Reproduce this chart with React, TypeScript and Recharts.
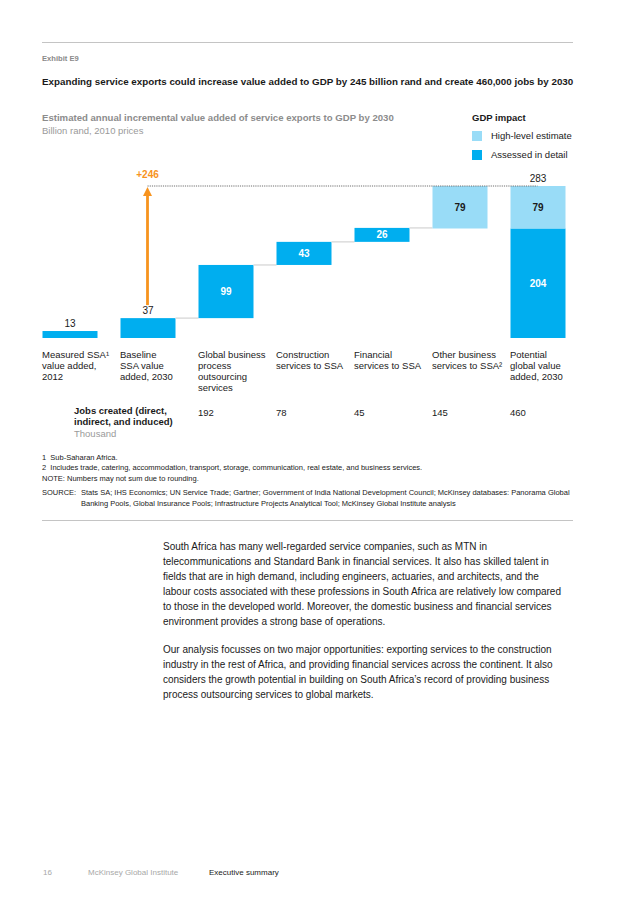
import React from 'react';
import { BarChart, Bar, XAxis, YAxis, LabelList, ReferenceLine } from 'recharts';

// Waterfall values, billion rand (2010 prices)
const CATEGORIES = ['measured2012', 'baseline2030', 'gbpo', 'construction', 'financial', 'other', 'potential2030'];
const CATEGORY_LINES = [
  ['Measured SSA¹', 'value added,', '2012'],
  ['Baseline', 'SSA value', 'added, 2030'],
  ['Global business', 'process', 'outsourcing', 'services'],
  ['Construction', 'services to SSA'],
  ['Financial', 'services to SSA'],
  ['Other business', 'services to SSA²'],
  ['Potential', 'global value', 'added, 2030'],
];
const BASE = [0, 0, 37, 136, 179, 204, 0];
const DETAILED = [13, 37, 99, 43, 26, 0, 204];
const HIGH_LEVEL = [0, 0, 0, 0, 0, 79, 79];
const TOTALS = [null, null, null, null, null, null, 283];
const JOBS = ['', '', '192', '78', '45', '145', '460'];
const UPLIFT_LABEL = '+246';
const TARGET = 283;

const DATA = CATEGORIES.map((name, i) => ({
  name,
  base: BASE[i],
  detailed: DETAILED[i],
  high: HIGH_LEVEL[i],
  total: TOTALS[i],
}));

const FONT = '"Liberation Sans", Arial, Helvetica, sans-serif';
const DARK = '#00aeef';
const LIGHT = '#99dcf7';
const ORANGE = '#f7931e';
const TEXT = '#1a1a1a';

const CHART_W = 636;
const M_LEFT = 30.5;
const M_RIGHT = 59.5;
const M_TOP = 186;
const PLOT_H = 152;
const AXIS_H = 110;
const BAR_W = 55;
const BAND = (CHART_W - M_LEFT - M_RIGHT) / CATEGORIES.length;
const GAP = BAND - BAR_W;

const T = ({ x, y, size, color = TEXT, bold = false, children }: any) => (
  <div
    style={{
      position: 'absolute',
      left: x,
      top: y - size * 0.846,
      fontSize: size,
      lineHeight: `${size}px`,
      color,
      fontWeight: bold ? 700 : 400,
      whiteSpace: 'nowrap',
    }}
  >
    {children}
  </div>
);

// dark bar + the thin connector to the next bar
const DetailedShape = (p: any) => {
  const { x, y, width, height, index } = p;
  if (!height) return <g />;
  const connect = index >= 1 && index <= 4;
  return (
    <g>
      <rect x={x} y={y} width={width} height={height} fill={DARK} />
      {connect && <line x1={x + width} x2={x + width + GAP} y1={y} y2={y} stroke="#dcdcdc" strokeWidth={1.5} />}
    </g>
  );
};

const DetailedLabel = (p: any) => {
  const { x, y, width, height, value, index } = p;
  if (!value) return null;
  if (index <= 1) {
    return (
      <text x={x + width / 2} y={y - 4} textAnchor="middle" fontSize={10} fill={TEXT} fontFamily={FONT}>
        {value}
      </text>
    );
  }
  return (
    <text x={x + width / 2} y={y + height / 2 + 3.5} textAnchor="middle" fontSize={10} fontWeight={700} fill="#fff" fontFamily={FONT}>
      {value}
    </text>
  );
};

const HighLabel = (p: any) => {
  const { x, y, width, height, value } = p;
  if (!value) return null;
  return (
    <text x={x + width / 2} y={y + height / 2 + 3.5} textAnchor="middle" fontSize={10} fontWeight={700} fill={TEXT} fontFamily={FONT}>
      {value}
    </text>
  );
};

const TotalLabel = (p: any) => {
  const { x, y, width, value } = p;
  if (value == null) return null;
  return (
    <text x={x + width / 2} y={y - 4} textAnchor="middle" fontSize={10} fill={TEXT} fontFamily={FONT}>
      {value}
    </text>
  );
};

const CategoryTick = (p: any) => {
  const { x, y, payload } = p;
  const i = CATEGORIES.indexOf(payload.value);
  const left = x - BAR_W / 2;
  return (
    <g fontFamily={FONT} fontSize={9.5} fill={TEXT}>
      <text x={left} y={y}>
        {CATEGORY_LINES[i].map((l, k) => (
          <tspan key={k} x={left} dy={k === 0 ? 20 : 11}>
            {l}
          </tspan>
        ))}
      </text>
      {JOBS[i] && (
        <text x={left} y={y + 78}>
          {JOBS[i]}
        </text>
      )}
    </g>
  );
};

const Arrow = (p: any) => {
  const { x1, y1, y2 } = p;
  const start = y1 - 13;
  const tip = y2 + 1;
  return (
    <g>
      <line x1={x1} x2={x1} y1={start} y2={tip + 8} stroke={ORANGE} strokeWidth={2.8} />
      <polygon points={`${x1 - 4.5},${tip + 9} ${x1 + 4.5},${tip + 9} ${x1},${tip}`} fill={ORANGE} />
      <text x={x1} y={y2 - 8} textAnchor="middle" fontSize={10} fontWeight={700} fill={ORANGE} fontFamily={FONT}>
        {UPLIFT_LABEL}
      </text>
    </g>
  );
};

const BODY_1 = [
  'South Africa has many well-regarded service companies, such as MTN in',
  'telecommunications and Standard Bank in financial services. It also has skilled talent in',
  'fields that are in high demand, including engineers, actuaries, and architects, and the',
  'labour costs associated with these professions in South Africa are relatively low compared',
  'to those in the developed world. Moreover, the domestic business and financial services',
  'environment provides a strong base of operations.',
];
const BODY_2 = [
  'Our analysis focusses on two major opportunities: exporting services to the construction',
  'industry in the rest of Africa, and providing financial services across the continent. It also',
  'considers the growth potential in building on South Africa\u2019s record of providing business',
  'process outsourcing services to global markets.',
];

export default function App() {
  return (
    <div style={{ position: 'absolute', left: 0, top: 0, width: 636, height: 900, background: '#fff', fontFamily: FONT, overflow: 'hidden' }}>
      <div style={{ position: 'absolute', left: 42, top: 41.5, width: 531, height: 1.2, background: '#c4c4c4' }} />
      <T x={42} y={61} size={7.6} color="#8a8a8a" bold>Exhibit E9</T>
      <T x={42} y={85.5} size={9.8} bold>
        Expanding service exports could increase value added to GDP by 245 billion rand and create 460,000 jobs by 2030
      </T>
      <T x={42} y={121.5} size={9.6} color="#8c8c8c" bold>
        Estimated annual incremental value added of service exports to GDP by 2030
      </T>
      <T x={42} y={134.5} size={9.5} color="#9a9a9a">Billion rand, 2010 prices</T>

      <T x={472} y={121.5} size={9.5} bold>GDP impact</T>
      <div style={{ position: 'absolute', left: 472, top: 131, width: 10, height: 10, background: LIGHT }} />
      <T x={491} y={139.5} size={9.5}>High-level estimate</T>
      <div style={{ position: 'absolute', left: 472, top: 150, width: 10, height: 10, background: DARK }} />
      <T x={491} y={158.5} size={9.5}>Assessed in detail</T>

      <div style={{ position: 'absolute', left: 0, top: 0 }}>
        <BarChart
          width={CHART_W}
          height={M_TOP + PLOT_H + AXIS_H}
          data={DATA}
          margin={{ top: M_TOP, right: M_RIGHT, bottom: 0, left: M_LEFT }}
          barSize={BAR_W}
        >
          <YAxis hide domain={[0, TARGET]} allowDataOverflow />
          <XAxis
            dataKey="name"
            height={AXIS_H}
            axisLine={false}
            tickLine={false}
            tickSize={0}
            tickMargin={0}
            interval={0}
            tick={<CategoryTick />}
          />
          <ReferenceLine
            segment={[{ x: CATEGORIES[1], y: TARGET }, { x: CATEGORIES[6], y: TARGET }]}
            stroke="#6f6f6f"
            strokeWidth={1}
            strokeDasharray="1.2 1"
          />
          <Bar dataKey="base" stackId="w" fill="transparent" isAnimationActive={false} />
          <Bar dataKey="detailed" stackId="w" fill={DARK} shape={<DetailedShape />} isAnimationActive={false}>
            <LabelList dataKey="detailed" content={<DetailedLabel />} />
          </Bar>
          <Bar dataKey="high" stackId="w" fill={LIGHT} isAnimationActive={false}>
            <LabelList dataKey="high" content={<HighLabel />} />
            <LabelList dataKey="total" content={<TotalLabel />} />
          </Bar>
          <ReferenceLine
            segment={[{ x: CATEGORIES[1], y: DETAILED[1] }, { x: CATEGORIES[1], y: TARGET }]}
            shape={<Arrow />}
          />
        </BarChart>
      </div>

      <T x={74} y={414.5} size={9.5} bold>Jobs created (direct,</T>
      <T x={74} y={425.5} size={9.5} bold>indirect, and induced)</T>
      <T x={74} y={437.5} size={9.5} color="#9a9a9a">Thousand</T>

      <T x={42} y={460} size={7.5}>1&nbsp;&nbsp;Sub-Saharan Africa.</T>
      <T x={42} y={470.5} size={7.5}>
        2&nbsp;&nbsp;Includes trade, catering, accommodation, transport, storage, communication, real estate, and business services.
      </T>
      <T x={42} y={481} size={7.5}>NOTE: Numbers may not sum due to rounding.</T>
      <T x={42} y={495.5} size={7.5}>SOURCE:</T>
      <T x={81} y={495.5} size={7.5}>
        Stats SA; IHS Economics; UN Service Trade; Gartner; Government of India National Development Council; McKinsey databases: Panorama Global
      </T>
      <T x={81} y={506} size={7.5}>
        Banking Pools, Global Insurance Pools; Infrastructure Projects Analytical Tool; McKinsey Global Institute analysis
      </T>
      <div style={{ position: 'absolute', left: 42, top: 519.5, width: 531, height: 1.2, background: '#c4c4c4' }} />

      {BODY_1.map((l, i) => (
        <T key={'a' + i} x={163} y={550 + i * 15} size={10}>{l}</T>
      ))}
      {BODY_2.map((l, i) => (
        <T key={'b' + i} x={163} y={653 + i * 15} size={10}>{l}</T>
      ))}

      <T x={43} y={876} size={8} color="#a8a8a8">16</T>
      <T x={88} y={876} size={8} color="#a8a8a8">McKinsey Global Institute</T>
      <T x={209} y={876} size={8}>Executive summary</T>
    </div>
  );
}
